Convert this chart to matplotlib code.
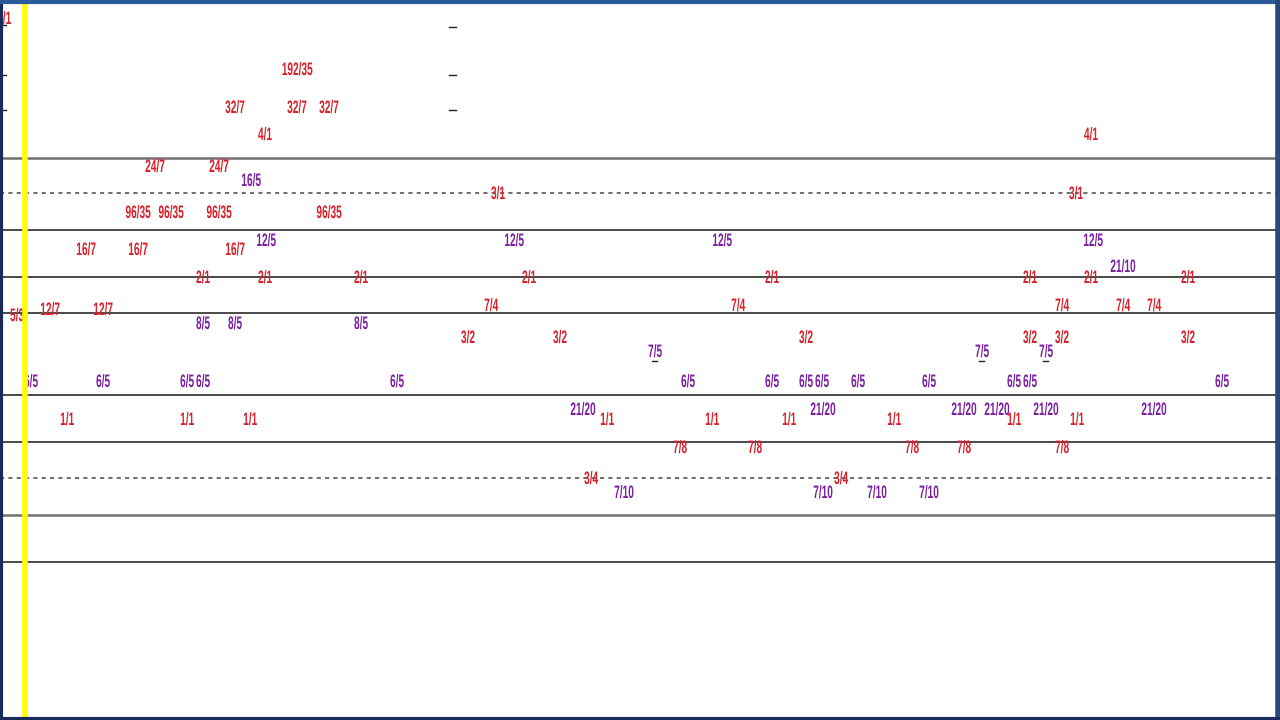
import matplotlib
matplotlib.use("Agg")
import matplotlib.pyplot as plt
from matplotlib.patheffects import AbstractPathEffect
from matplotlib.transforms import Affine2D

# ---------------- data ----------------
# red ratio labels: (label, x, y)
red_labels = ["1/1", "192/35", "32/7", "32/7", "32/7", "4/1", "4/1",
              "24/7", "24/7", "3/1", "3/1",
              "96/35", "96/35", "96/35", "96/35",
              "16/7", "16/7", "16/7",
              "2/1", "2/1", "2/1", "2/1", "2/1", "2/1", "2/1", "2/1",
              "7/4", "7/4", "7/4", "7/4", "7/4",
              "5/3", "12/7", "12/7",
              "3/2", "3/2", "3/2", "3/2", "3/2", "3/2",
              "1/1", "1/1", "1/1", "1/1", "1/1", "1/1", "1/1", "1/1", "1/1",
              "7/8", "7/8", "7/8", "7/8", "7/8",
              "3/4", "3/4"]
red_x = [4, 297, 235, 297, 329, 265, 1091,
         155, 219, 498, 1076,
         138, 171, 219, 329,
         86, 138, 235,
         203, 265, 361, 529, 772, 1030, 1091, 1188,
         491, 738, 1062, 1123, 1154,
         17, 50, 103,
         468, 560, 806, 1030, 1062, 1188,
         67, 187, 250, 607, 712, 789, 894, 1014, 1077,
         680, 755, 912, 964, 1062,
         591, 841]
red_y = [18, 69, 107, 107, 107, 134, 134,
         166, 166, 193, 193,
         212, 212, 212, 212,
         249, 249, 249,
         277, 277, 277, 277, 277, 277, 277, 277,
         305, 305, 305, 305, 305,
         315, 309, 309,
         337, 337, 337, 337, 337, 337,
         419, 419, 419, 419, 419, 419, 419, 419, 419,
         447, 447, 447, 447, 447,
         478, 478]

purple_labels = ["16/5",
                 "12/5", "12/5", "12/5", "12/5",
                 "21/10",
                 "8/5", "8/5", "8/5",
                 "7/5", "7/5", "7/5",
                 "6/5", "6/5", "6/5", "6/5", "6/5", "6/5", "6/5", "6/5",
                 "6/5", "6/5", "6/5", "6/5", "6/5", "6/5",
                 "21/20", "21/20", "21/20", "21/20", "21/20", "21/20",
                 "7/10", "7/10", "7/10", "7/10"]
purple_x = [251,
            266, 514, 722, 1093,
            1123,
            203, 235, 361,
            655, 982, 1046,
            31, 103, 187, 203, 397, 688, 772, 806, 822, 858, 929, 1014, 1030, 1222,
            583, 823, 964, 997, 1046, 1154,
            624, 823, 877, 929]
purple_y = [180,
            240, 240, 240, 240,
            266,
            323, 323, 323,
            351, 351, 351,
            381, 381, 381, 381, 381, 381, 381, 381, 381, 381, 381, 381, 381, 381,
            409, 409, 409, 409, 409, 409,
            492, 492, 492, 492]

# staff lines (y levels)
solid_lines = [158, 230, 277, 313, 395, 442, 515, 562]
light_lines = [158, 515]
dotted_lines = [193, 478]
left_dash_y = [25, 75, 110]
right_dash_y = [27, 75, 110]

RED = "#d8202a"
PURPLE = "#7a1fa0"


class Squeeze(AbstractPathEffect):
    """Draw the text horizontally condensed about its centre."""
    def __init__(self, sx):
        super().__init__()
        self.sx = sx

    def draw_path(self, renderer, gc, tpath, affine, rgbFace=None):
        ext = tpath.get_extents()
        cx = (ext.x0 + ext.x1) / 2
        aff = Affine2D().translate(-cx, 0).scale(self.sx, 1).translate(cx, 0) + affine
        renderer.draw_path(gc, tpath, aff, rgbFace)


squeeze = [Squeeze(0.56)]

# ---------------- figure ----------------
fig = plt.figure(figsize=(12.8, 7.2), dpi=100)
fig.patch.set_facecolor("white")
ax = fig.add_axes([0, 0, 1, 1])
ax.set_xlim(0, 1280)
ax.set_ylim(720, 0)
ax.axis("off")

fam = ["Liberation Sans", "DejaVu Sans"]

for y in solid_lines:
    col = "#707070" if y in light_lines else "#2a2a2a"
    lw = 1.8 if y in light_lines else 1.2
    ax.plot([0, 1276], [y, y], color=col, lw=lw, zorder=1)
for y in dotted_lines:
    ax.plot([0, 1276], [y, y], color="#555555", lw=1.2, ls=(0, (2.5, 2.5)), zorder=1)

for y in left_dash_y:
    ax.plot([0, 6], [y, y], color="#222222", lw=1.0, zorder=1)
for y in right_dash_y:
    ax.plot([449, 456], [y, y], color="#222222", lw=1.0, zorder=1)

dy = 1.5  # baseline nudge so glyphs centre on their level
for t, x, y in zip(red_labels, red_x, red_y):
    ax.text(x, y + dy, t, color=RED, fontsize=13, family=fam, weight="bold",
            ha="center", va="center", zorder=3, path_effects=squeeze)
for t, x, y in zip(purple_labels, purple_x, purple_y):
    ax.text(x, y + dy, t, color=PURPLE, fontsize=13, family=fam, weight="bold",
            ha="center", va="center", zorder=3, path_effects=squeeze)
    if t == "7/5":
        ax.plot([x - 3, x + 2], [y + 10, y + 10], color="#222222", lw=1.0, zorder=3)

# yellow cursor line
ax.plot([25, 25], [0, 720], color="#ffff00", lw=4, zorder=4)

# window border
ax.plot([1, 1], [0, 720], color="#1a2a5a", lw=3, zorder=5)
ax.plot([0, 1280], [1.5, 1.5], color="#2a5a9a", lw=3, zorder=5)
ax.plot([1278, 1278], [0, 720], color="#2a4a7a", lw=4, zorder=5)
ax.plot([0, 1280], [718.5, 718.5], color="#1a2a5a", lw=3, zorder=5)

fig.savefig("out.png", dpi=100, facecolor="white")
